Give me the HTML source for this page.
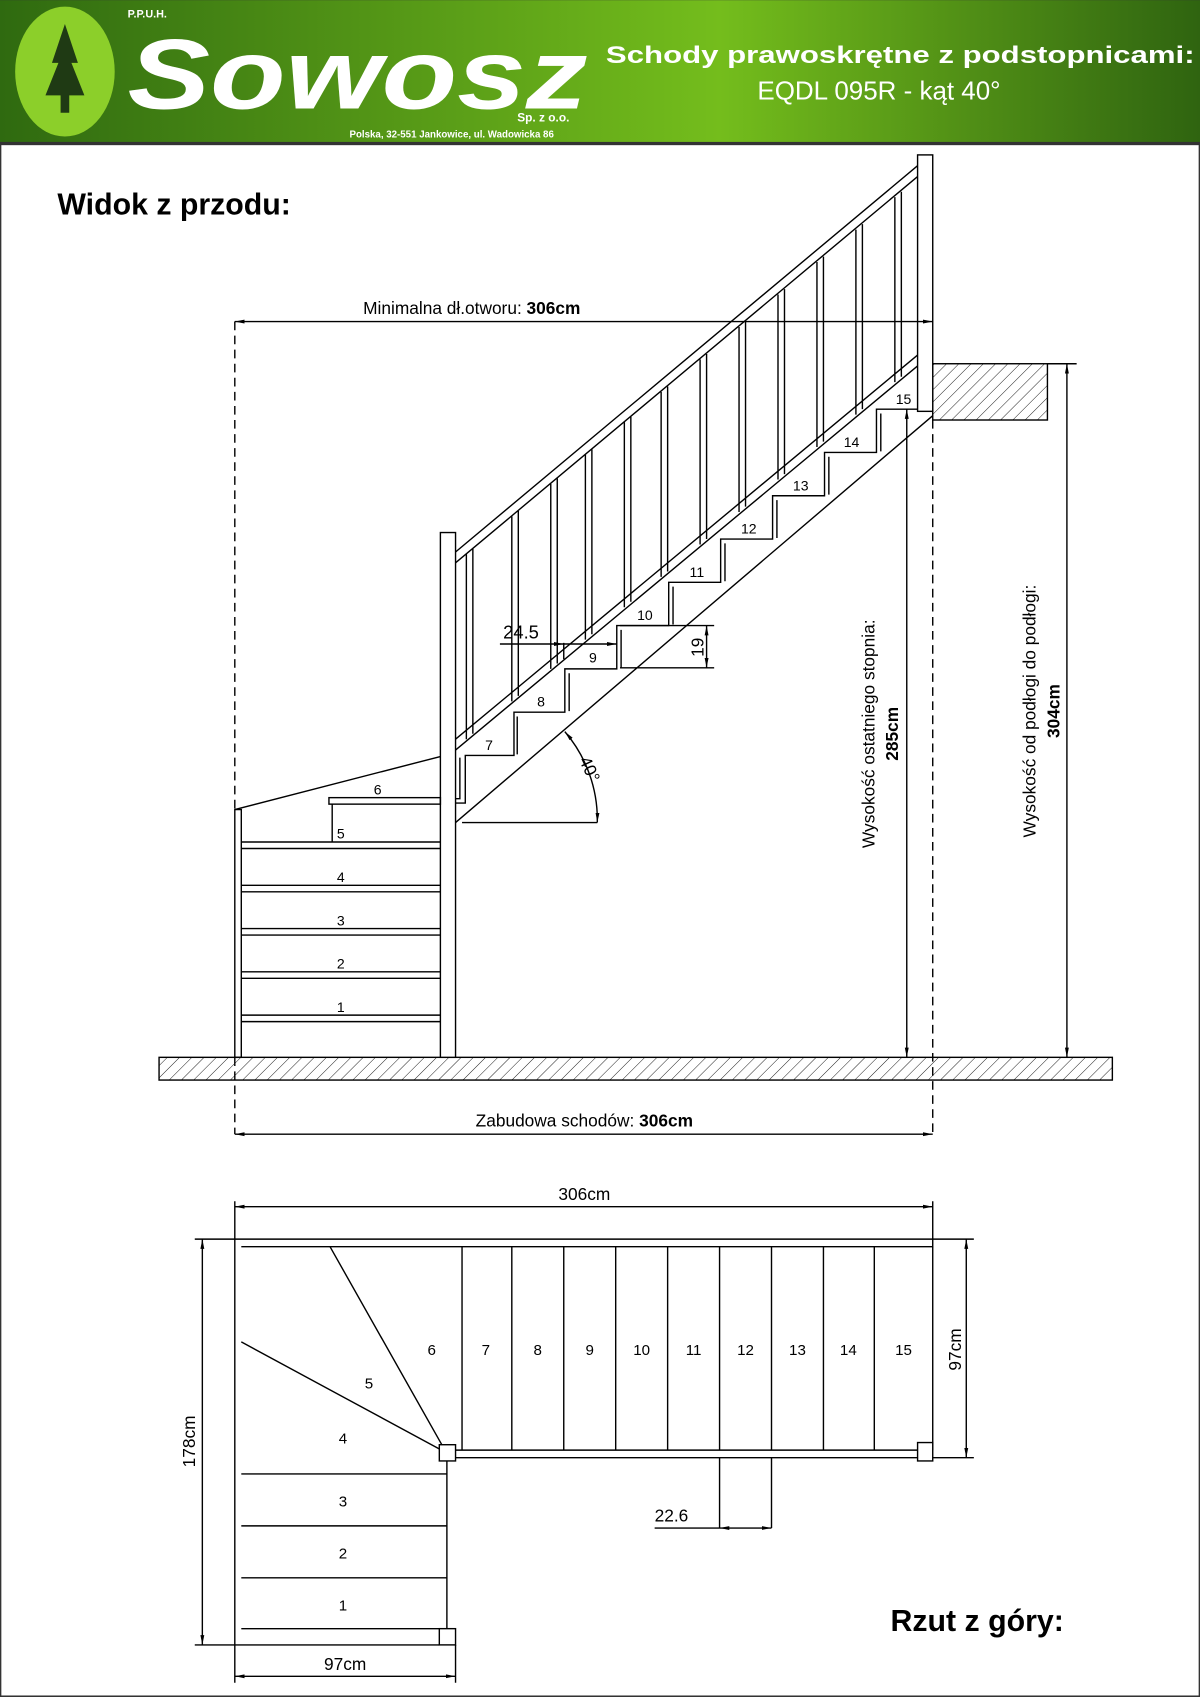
<!DOCTYPE html>
<html><head><meta charset="utf-8"><style>
html,body{margin:0;padding:0;background:#fff}
svg{display:block}
text{font-family:"Liberation Sans",sans-serif;fill:#000}
</style></head><body>
<svg width="1200" height="1697" viewBox="0 0 1109 1568" xmlns="http://www.w3.org/2000/svg">
<defs>
<linearGradient id="g" x1="0" x2="1" y1="0" y2="0">
<stop offset="0" stop-color="#2f6a10"/><stop offset="0.6" stop-color="#74bd1c"/><stop offset="1" stop-color="#2f6410"/>
</linearGradient>
<pattern id="h" width="8" height="8" patternUnits="userSpaceOnUse" patternTransform="rotate(45)">
<line x1="0" y1="0" x2="0" y2="8" stroke="#000" stroke-width="0.8"/></pattern>
<marker id="a" viewBox="0 0 10 10" refX="10" refY="5" markerWidth="9" markerHeight="9" orient="auto-start-reverse" markerUnits="userSpaceOnUse"><path d="M0,3 L10,5 L0,7 z" fill="#000"/></marker>
</defs>
<rect x="0.5" y="0.5" width="1108" height="1567" fill="#fff" stroke="#333" stroke-width="1.5"/>
<rect x="0" y="0" width="1109" height="133" fill="url(#g)"/>
<rect x="0" y="131" width="1109" height="3" fill="#333"/>
<ellipse cx="60" cy="66" rx="46" ry="60" fill="#8ccf2a"/>
<path d="M60,22 L72,58 L66,58 L78,88 L64,88 L64,104 L56,104 L56,88 L42,88 L54,58 L48,58 Z" fill="#1f3a14"/>
<text x="118" y="16" font-size="10" font-weight="bold" style="fill:#fff">P.P.U.H.</text>
<text x="118" y="100" font-size="92" font-weight="bold" font-style="italic" font-family="Liberation Serif" style="fill:#fff" textLength="425" lengthAdjust="spacingAndGlyphs">Sowosz</text>
<text x="478" y="112" font-size="11" font-weight="bold" style="fill:#fff">Sp. z o.o.</text>
<text x="323" y="127" font-size="9" font-weight="bold" style="fill:#fff">Polska, 32-551 Jankowice, ul. Wadowicka 86</text>
<text x="560" y="58" font-size="22" font-weight="bold" style="fill:#fff" textLength="544" lengthAdjust="spacingAndGlyphs">Schody prawoskrętne z podstopnicami:</text>
<text x="700" y="92" font-size="24" style="fill:#fff">EQDL 095R - kąt 40°</text>

<text x="53" y="198" font-size="28" font-weight="bold">Widok z przodu:</text>
<g fill="none" stroke="#000" stroke-width="1.3">
<rect x="147" y="977" width="881" height="21" fill="url(#h)"/>
<rect x="862" y="336" width="106" height="52" fill="url(#h)"/>
<rect x="217" y="748" width="6" height="229"/>
<rect x="407" y="492" width="14" height="485" fill="#fff"/>
<rect x="848" y="143" width="14" height="237" fill="#fff"/>
<path d="M223,778H407M223,784H407M223,818H407M223,824H407M223,858H407M223,864H407M223,898H407M223,904H407M223,938H407M223,944H407"/>
<rect x="304" y="737" width="103" height="6"/>
<path d="M307,743V778M217,748L407,699"/>
<path d="M421,510L848,153M421,520L848,163M421,683L848,328M421,693L848,338M421,760L862,384"/>
<path d="M431,512V683M437,507V678M473,477V648M479,472V643M509,447V618M515,442V613M541,420V591M547,415V586M577,390V561M583,385V556M611,362V533M617,357V528M647,332V503M653,327V498M683,302V473M689,297V468M719,272V443M725,267V438M755,242V413M761,237V408M791,212V383M797,207V378M827,182V353M833,177V348"/>
<path d="M421,742H430V698H475V658H522V618H570V578H618V538H666V498H714V458H762V418H810V378H848"/>
<path d="M421,738H425V700M478,697V662M526,657V622M574,617V582M622,577V542M670,537V502M718,497V462M766,457V422M814,417V382"/>
<path d="M521,594V609M573,578H660M573,617H660"/>
<path d="M427,760H552"/>
<path d="M552,760 A125,125 0 0 0 522,676" marker-start="url(#a)" marker-end="url(#a)"/>
<path d="M462,595H521" marker-end="url(#a)"/><path d="M521,595H570" marker-end="url(#a)"/>
<path d="M653,578V617" marker-start="url(#a)" marker-end="url(#a)"/>
<path d="M838,378V977" marker-start="url(#a)" marker-end="url(#a)"/>
<path d="M986,336V977" marker-start="url(#a)" marker-end="url(#a)"/>
<path d="M968,336H995"/>
<path d="M217,297H862" marker-start="url(#a)" marker-end="url(#a)"/>
<path d="M217,1048H862" marker-start="url(#a)" marker-end="url(#a)"/>
<path d="M217,297V748M217,977V1048M862,388V1048" stroke-dasharray="8,5"/>
</g>
<g font-size="13" text-anchor="middle">
<text x="315" y="775">5</text><text x="315" y="815">4</text><text x="315" y="855">3</text><text x="315" y="895">2</text><text x="315" y="935">1</text><text x="349" y="734">6</text>
<text x="452" y="693">7</text><text x="500" y="653">8</text><text x="548" y="612">9</text><text x="596" y="573">10</text><text x="644" y="533">11</text><text x="692" y="493">12</text><text x="740" y="453">13</text><text x="787" y="413">14</text><text x="835" y="373">15</text>
</g>
<text x="465" y="590" font-size="17">24.5</text>
<text transform="translate(650,598) rotate(-90)" font-size="16" text-anchor="middle">19</text>
<text transform="translate(540,713) rotate(65)" font-size="16" text-anchor="middle">40°</text>
<text transform="translate(808,678) rotate(-90)" font-size="16" text-anchor="middle">Wysokość ostatniego stopnia:</text>
<text transform="translate(830,678) rotate(-90)" font-size="16" font-weight="bold" text-anchor="middle">285cm</text>
<text transform="translate(957,657) rotate(-90)" font-size="16" text-anchor="middle">Wysokość od podłogi do podłogi:</text>
<text transform="translate(979,657) rotate(-90)" font-size="16" font-weight="bold" text-anchor="middle">304cm</text>
<text x="436" y="290" font-size="16" text-anchor="middle">Minimalna dł.otworu: <tspan font-weight="bold">306cm</tspan></text>
<text x="540" y="1041" font-size="16" text-anchor="middle">Zabudowa schodów: <tspan font-weight="bold">306cm</tspan></text>

<g fill="none" stroke="#000" stroke-width="1.3">
<path d="M217,1115H862" marker-start="url(#a)" marker-end="url(#a)"/>
<path d="M217,1110V1145M862,1110V1145"/>
<path d="M217,1145H862V1152H223M217,1145V1520H406"/>
<path d="M427,1152V1340M473,1152V1340M521,1152V1340M569,1152V1340M617,1152V1340M665,1152V1340M713,1152V1340M761,1152V1340M808,1152V1340M862,1152V1340"/>
<path d="M421,1340H848M421,1347H848"/>
<path d="M305,1152L410,1338M223,1240L408,1340"/>
<path d="M223,1362H413M223,1410H413M223,1458H413M223,1505H406M413,1350V1505"/>
<rect x="406" y="1335" width="15" height="15" fill="#fff"/>
<rect x="848" y="1333" width="14" height="17" fill="#fff"/>
<rect x="406" y="1505" width="15" height="15" fill="#fff"/>
<path d="M187,1145V1520" marker-start="url(#a)" marker-end="url(#a)"/>
<path d="M180,1145H217M180,1520H217"/>
<path d="M893,1145V1347" marker-start="url(#a)" marker-end="url(#a)"/>
<path d="M862,1145H900M862,1347H900"/>
<path d="M217,1549H421" marker-start="url(#a)" marker-end="url(#a)"/>
<path d="M421,1520V1555M217,1520V1555"/>
<path d="M665,1347V1412M713,1347V1412M605,1412H665"/>
<path d="M665,1412H713" marker-start="url(#a)" marker-end="url(#a)"/>
</g>
<g font-size="14" text-anchor="middle">
<text x="399" y="1252">6</text><text x="449" y="1252">7</text><text x="497" y="1252">8</text><text x="545" y="1252">9</text><text x="593" y="1252">10</text><text x="641" y="1252">11</text><text x="689" y="1252">12</text><text x="737" y="1252">13</text><text x="784" y="1252">14</text><text x="835" y="1252">15</text>
<text x="341" y="1283">5</text><text x="317" y="1334">4</text><text x="317" y="1392">3</text><text x="317" y="1440">2</text><text x="317" y="1488">1</text>
</g>
<text x="540" y="1109" font-size="16" text-anchor="middle">306cm</text>
<text transform="translate(180,1332) rotate(-90)" font-size="16" text-anchor="middle">178cm</text>
<text transform="translate(888,1247) rotate(-90)" font-size="16" text-anchor="middle">97cm</text>
<text x="319" y="1543" font-size="16" text-anchor="middle">97cm</text>
<text x="605" y="1406" font-size="16">22.6</text>
<text x="823" y="1507" font-size="28" font-weight="bold">Rzut z góry:</text>
</svg>
</body></html>
